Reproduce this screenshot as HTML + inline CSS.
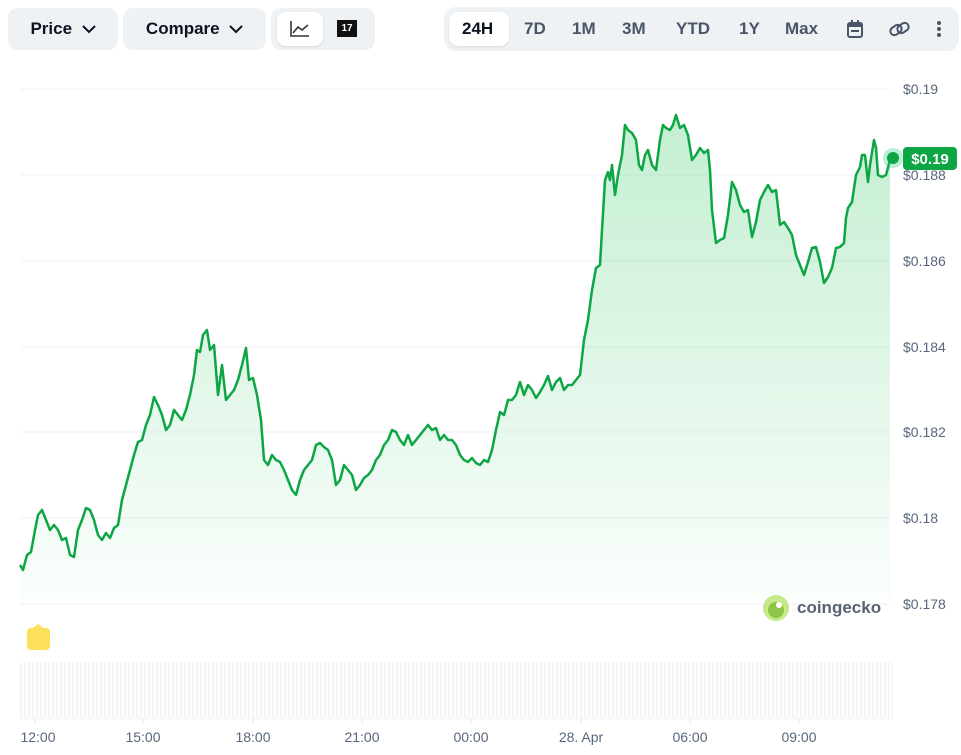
<!DOCTYPE html>
<html><head><meta charset="utf-8"><style>
html,body{margin:0;padding:0;background:#fff;width:961px;height:755px;overflow:hidden;font-family:"Liberation Sans",sans-serif}
.btn{position:absolute;top:8px;height:42px;background:#eff2f5;border-radius:10px;font-size:17px;font-weight:bold;color:#0d1421;display:flex;align-items:center;justify-content:center}
.t{position:absolute;font-size:17px;font-weight:bold;color:#4a5568;top:19px}
</style></head><body>
<div class="btn" style="left:8px;width:110px">Price&nbsp;&nbsp;<svg width="14" height="9"><path d="M1 1L7 7L13 1" stroke="#0d1421" stroke-width="2" fill="none"/></svg></div>
<div class="btn" style="left:123px;width:143px">Compare&nbsp;&nbsp;<svg width="14" height="9"><path d="M1 1L7 7L13 1" stroke="#0d1421" stroke-width="2" fill="none"/></svg></div>
<div class="btn" style="left:271px;width:104px"></div>
<div style="position:absolute;left:277px;top:12px;width:46px;height:34px;background:#fff;border-radius:9px;box-shadow:0 1px 2px rgba(0,0,0,.1)"><svg width="46" height="34"><path d="M14 9V24H32M16 21L21 15L25 18L31 13" stroke="#333" stroke-width="1.6" fill="none"/></svg></div>
<div style="position:absolute;left:337px;top:20px;width:20px;height:17px;background:#111;color:#fff;font-size:10px;font-weight:bold;text-align:center;line-height:17px">17</div>
<div style="position:absolute;left:444px;top:7px;width:515px;height:44px;background:#eff2f5;border-radius:12px"></div>
<div style="position:absolute;left:449px;top:12px;width:60px;height:34px;background:#fff;border-radius:9px;box-shadow:0 1px 2px rgba(0,0,0,.1)"></div>
<div class="t" style="left:462px;color:#0d1421">24H</div>
<div class="t" style="left:524px">7D</div>
<div class="t" style="left:572px">1M</div>
<div class="t" style="left:622px">3M</div>
<div class="t" style="left:676px">YTD</div>
<div class="t" style="left:739px">1Y</div>
<div class="t" style="left:785px">Max</div>
<svg style="position:absolute;left:846px;top:19px" width="18" height="20"><rect x="2" y="4" width="14" height="14" rx="2" fill="none" stroke="#4a5568" stroke-width="2"/><rect x="2" y="4" width="14" height="4" fill="#4a5568"/><rect x="5" y="11" width="8" height="2" fill="#4a5568"/><rect x="5" y="1" width="2" height="4" fill="#4a5568"/><rect x="11" y="1" width="2" height="4" fill="#4a5568"/></svg>
<svg style="position:absolute;left:888px;top:19px" width="24" height="20"><g fill="none" stroke="#4a5568" stroke-width="2"><rect x="2" y="7" width="12" height="8" rx="4" transform="rotate(-35 8 11)"/><rect x="9" y="5" width="12" height="8" rx="4" transform="rotate(-35 15 9)"/></g></svg>
<svg style="position:absolute;left:936px;top:20px" width="6" height="18"><circle cx="3" cy="3" r="2" fill="#4a5568"/><circle cx="3" cy="9" r="2" fill="#4a5568"/><circle cx="3" cy="15" r="2" fill="#4a5568"/></svg>

<svg style="position:absolute;left:0;top:0" width="961" height="755">
<defs>
<linearGradient id="g" x1="0" y1="0" x2="0" y2="1"><stop offset="0" stop-color="#2cc45e" stop-opacity="0.28"/><stop offset="1" stop-color="#2cc45e" stop-opacity="0.02"/></linearGradient>
<pattern id="v" width="4" height="60" patternUnits="userSpaceOnUse"><rect x="0" y="0" width="1.5" height="60" fill="#f0f2f5"/></pattern>
</defs>
<g stroke="#f0f2f4" stroke-width="1">
<line x1="20" y1="89" x2="890" y2="89"/><line x1="20" y1="175" x2="890" y2="175"/><line x1="20" y1="261" x2="890" y2="261"/><line x1="20" y1="347" x2="890" y2="347"/><line x1="20" y1="432" x2="890" y2="432"/><line x1="20" y1="518" x2="890" y2="518"/><line x1="20" y1="604" x2="890" y2="604"/>
<line x1="20" y1="719" x2="893" y2="719"/>
</g>
<g fill="#58667e" font-size="14">
<text x="903" y="94">$0.19</text><text x="903" y="180">$0.188</text><text x="903" y="266">$0.186</text><text x="903" y="352">$0.184</text><text x="903" y="437">$0.182</text><text x="903" y="523">$0.18</text><text x="903" y="609">$0.178</text>
</g>
<path d="M20,565 L23,570 27,555 31,552 35,530 38,515 42,510 46,520 50,530 54,525 58,530 62,540 66,538 70,555 74,557 78,530 82,520 86,508 90,510 94,520 98,535 102,540 106,533 110,538 114,528 118,525 122,500 126,485 130,470 134,455 138,442 142,440 146,425 150,415 154,397 158,405 162,415 166,430 170,425 174,410 178,415 182,420 186,410 190,395 194,375 197,350 200,352 203,335 207,330 210,350 214,345 218,395 222,365 226,400 230,395 234,390 238,380 242,365 246,348 249,380 253,378 257,395 261,420 264,460 268,465 272,455 276,460 280,462 284,470 288,480 292,490 296,495 300,480 304,470 308,465 312,460 316,445 320,443 324,447 328,450 332,460 336,485 340,480 344,465 348,470 352,475 356,490 360,485 364,478 368,475 372,470 376,460 380,455 384,445 388,440 392,430 396,432 400,440 404,445 408,435 412,445 416,440 420,435 424,430 428,425 432,430 436,428 440,440 444,435 448,440 452,440 456,445 460,455 464,460 468,462 472,458 476,463 480,465 484,460 488,462 492,450 496,430 500,412 504,415 508,400 512,400 516,395 520,382 524,395 528,385 532,390 536,398 540,392 544,385 548,376 552,390 556,382 560,378 564,390 568,385 572,385 576,380 580,375 584,340 588,320 592,290 596,268 600,265 602,230 605,180 608,172 610,180 612,165 615,195 618,175 622,155 625,125 628,130 632,133 636,140 639,165 642,170 645,155 648,150 652,165 656,170 660,140 663,125 666,128 670,130 673,125 676,115 680,128 684,125 688,135 692,160 696,155 700,148 704,153 708,150 710,170 712,210 716,243 720,240 724,238 728,215 732,182 736,190 740,205 744,212 748,210 752,237 756,222 760,200 764,192 768,185 772,192 776,190 780,225 784,222 788,228 792,235 796,255 800,265 804,275 808,262 812,248 816,247 820,262 824,283 828,277 832,268 836,248 840,247 844,243 846,218 848,208 852,202 856,175 860,167 862,155 865,155 868,182 870,165 874,140 876,148 878,175 882,177 886,175 890,160 L890,600 L20,600 Z" fill="url(#g)"/>
<path d="M20,565 L23,570 27,555 31,552 35,530 38,515 42,510 46,520 50,530 54,525 58,530 62,540 66,538 70,555 74,557 78,530 82,520 86,508 90,510 94,520 98,535 102,540 106,533 110,538 114,528 118,525 122,500 126,485 130,470 134,455 138,442 142,440 146,425 150,415 154,397 158,405 162,415 166,430 170,425 174,410 178,415 182,420 186,410 190,395 194,375 197,350 200,352 203,335 207,330 210,350 214,345 218,395 222,365 226,400 230,395 234,390 238,380 242,365 246,348 249,380 253,378 257,395 261,420 264,460 268,465 272,455 276,460 280,462 284,470 288,480 292,490 296,495 300,480 304,470 308,465 312,460 316,445 320,443 324,447 328,450 332,460 336,485 340,480 344,465 348,470 352,475 356,490 360,485 364,478 368,475 372,470 376,460 380,455 384,445 388,440 392,430 396,432 400,440 404,445 408,435 412,445 416,440 420,435 424,430 428,425 432,430 436,428 440,440 444,435 448,440 452,440 456,445 460,455 464,460 468,462 472,458 476,463 480,465 484,460 488,462 492,450 496,430 500,412 504,415 508,400 512,400 516,395 520,382 524,395 528,385 532,390 536,398 540,392 544,385 548,376 552,390 556,382 560,378 564,390 568,385 572,385 576,380 580,375 584,340 588,320 592,290 596,268 600,265 602,230 605,180 608,172 610,180 612,165 615,195 618,175 622,155 625,125 628,130 632,133 636,140 639,165 642,170 645,155 648,150 652,165 656,170 660,140 663,125 666,128 670,130 673,125 676,115 680,128 684,125 688,135 692,160 696,155 700,148 704,153 708,150 710,170 712,210 716,243 720,240 724,238 728,215 732,182 736,190 740,205 744,212 748,210 752,237 756,222 760,200 764,192 768,185 772,192 776,190 780,225 784,222 788,228 792,235 796,255 800,265 804,275 808,262 812,248 816,247 820,262 824,283 828,277 832,268 836,248 840,247 844,243 846,218 848,208 852,202 856,175 860,167 862,155 865,155 868,182 870,165 874,140 876,148 878,175 882,177 886,175 890,160 893,158" fill="none" stroke="#0ca644" stroke-width="2.5" stroke-linejoin="round"/>
<circle cx="893" cy="158" r="10" fill="#16c784" opacity="0.3"/>
<circle cx="893" cy="158" r="6" fill="#0ca644"/>
<rect x="903" y="147" width="54" height="23" rx="4" fill="#0ca644"/>
<text x="930" y="164" fill="#fff" font-size="15" font-weight="bold" text-anchor="middle">$0.19</text>
<rect x="20" y="662" width="873" height="56" fill="url(#v)"/>
<path d="M27,633 L38,624 L49,633 Z" fill="#fde05a"/>
<rect x="27" y="628" width="23" height="22" rx="4" fill="#fde05a"/>
<circle cx="776" cy="608" r="13" fill="#c6e98a"/><circle cx="776" cy="610" r="8" fill="#8dc647"/><circle cx="779" cy="605" r="3" fill="#fff"/>
<text x="797" y="613" fill="#5a6270" font-size="17" font-weight="bold">coingecko</text>
<g fill="#58667e" font-size="14" text-anchor="middle">
<text x="38" y="742">12:00</text><text x="143" y="742">15:00</text><text x="253" y="742">18:00</text><text x="362" y="742">21:00</text><text x="471" y="742">00:00</text><text x="581" y="742">28. Apr</text><text x="690" y="742">06:00</text><text x="799" y="742">09:00</text>
</g>
<g stroke="#e6e8ec"><line x1="35" y1="719" x2="35" y2="724"/><line x1="143" y1="719" x2="143" y2="724"/><line x1="253" y1="719" x2="253" y2="724"/><line x1="362" y1="719" x2="362" y2="724"/><line x1="471" y1="719" x2="471" y2="724"/><line x1="581" y1="719" x2="581" y2="724"/><line x1="690" y1="719" x2="690" y2="724"/><line x1="799" y1="719" x2="799" y2="724"/></g>
</svg>
</body></html>
